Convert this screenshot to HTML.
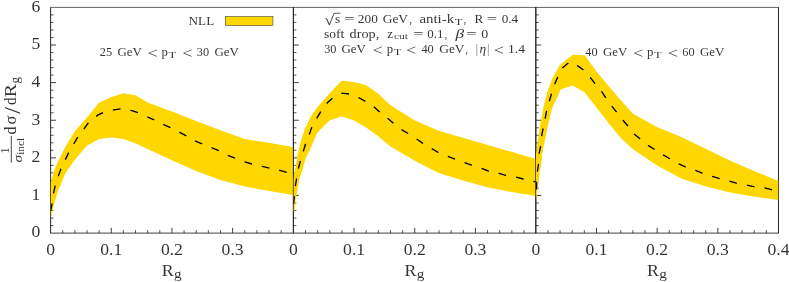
<!DOCTYPE html>
<html lang="en"><head><meta charset="utf-8"><title>Soft drop groomed radius</title>
<style>
html,body{margin:0;padding:0;background:#fff;}
body{width:789px;height:282px;overflow:hidden;}
svg{display:block;will-change:transform;}
text{font-family:"Liberation Serif","DejaVu Serif",serif;fill:#000;opacity:0.8;}
.t{font-size:17.6px;}
.s{font-size:12.2px;}
.ss{font-size:9.1px;}
.ss2{font-size:9.4px;}
.s1{font-size:12.8px;}
.sl{font-size:24px;}
.lt{font-size:14px;}
.i{font-style:italic;}
.ax{stroke:#222;stroke-width:0.85;fill:none;}
.mn{stroke:#111;stroke-width:0.7;fill:none;}
</style></head><body>
<svg width="789" height="282" viewBox="0 0 789 282">
<rect x="0" y="0" width="789" height="282" fill="#fff"/>
<defs>
<clipPath id="c0"><rect x="50.6" y="7.4" width="242.8" height="225.7"/></clipPath>
<clipPath id="c1"><rect x="293.4" y="7.4" width="242.4" height="225.7"/></clipPath>
<clipPath id="c2"><rect x="535.8" y="7.4" width="242.7" height="225.7"/></clipPath>
</defs>
<path d="M50.10 7.40H293.90" stroke="#000" stroke-width="0.62" fill="none"/>
<path d="M50.10 233.10H293.90" stroke="#2a2a2a" stroke-width="0.9" fill="none"/>
<path d="M50.60 7.40V233.10M293.40 7.40V233.10" stroke="#2a2a2a" stroke-width="1.02" fill="none"/>
<path class="ax" d="M50.60 195.48h5.4M50.60 157.87h5.4M50.60 120.25h5.4M50.60 82.63h5.4M50.60 45.02h5.4M111.27 233.10v-5.3M171.95 233.10v-5.3M232.62 233.10v-5.3"/>
<path class="mn" d="M50.60 225.58h3.0M50.60 218.05h3.0M50.60 210.53h3.0M50.60 203.01h3.0M50.60 187.96h3.0M50.60 180.44h3.0M50.60 172.91h3.0M50.60 165.39h3.0M50.60 150.34h3.0M50.60 142.82h3.0M50.60 135.30h3.0M50.60 127.77h3.0M50.60 112.73h3.0M50.60 105.20h3.0M50.60 97.68h3.0M50.60 90.16h3.0M50.60 75.11h3.0M50.60 67.59h3.0M50.60 60.06h3.0M50.60 52.54h3.0M50.60 37.49h3.0M50.60 29.97h3.0M50.60 22.45h3.0M50.60 14.92h3.0M62.73 233.10v-3.0M74.87 233.10v-3.0M87.00 233.10v-3.0M99.14 233.10v-3.0M123.41 233.10v-3.0M135.54 233.10v-3.0M147.68 233.10v-3.0M159.81 233.10v-3.0M184.08 233.10v-3.0M196.22 233.10v-3.0M208.35 233.10v-3.0M220.49 233.10v-3.0M244.76 233.10v-3.0M256.89 233.10v-3.0M269.03 233.10v-3.0M281.16 233.10v-3.0"/>
<g clip-path="url(#c0)">
<polygon points="50.5,185.0 51.3,181.3 54.0,170.8 56.3,165.2 58.8,160.0 62.6,152.2 65.7,146.2 74.8,131.3 86.9,117.5 99.0,102.8 111.2,97.2 123.3,93.2 135.4,95.3 147.6,102.6 171.9,111.5 196.1,121.1 220.4,130.3 244.7,139.0 269.0,142.7 293.5,147.3 293.5,195.0 269.0,191.0 244.7,186.4 220.4,180.0 196.1,170.9 171.9,160.3 147.6,149.0 135.4,143.2 123.3,139.0 111.2,137.5 99.0,139.0 86.9,145.8 74.8,159.8 67.3,170.4 64.5,175.0 62.6,179.8 60.9,184.5 58.2,190.5 56.6,195.6 52.4,210.6 51.3,215.0 50.5,219.0" fill="#FFD700"/>
<polyline points="50.7,211.0 52.2,202.6 53.7,192.5 55.4,185.0 58.8,174.6 61.3,168.0 65.9,158.4 69.0,151.9 74.3,143.0 77.8,137.1 84.9,127.6 88.5,122.6 97.7,115.2 103.5,112.5 114.2,109.8 121.3,108.8 131.9,110.7 138.7,112.9 148.3,117.3 155.0,120.1 164.2,124.9 171.3,128.1 180.2,132.6 186.6,136.0 195.5,141.2 202.3,144.0 212.0,147.8 218.8,150.7 228.5,155.6 235.4,158.3 244.8,161.9 252.0,164.0 262.2,166.3 269.3,168.1 280.0,170.4 287.0,172.5 293.5,174.0" fill="none" stroke="#000" stroke-width="1.35" stroke-dasharray="7.8 10.1"/>
</g>
<path d="M292.90 7.40H536.30" stroke="#000" stroke-width="0.62" fill="none"/>
<path d="M292.90 233.10H536.30" stroke="#2a2a2a" stroke-width="0.9" fill="none"/>
<path d="M293.40 7.40V233.10M535.80 7.40V233.10" stroke="#2a2a2a" stroke-width="1.02" fill="none"/>
<path class="ax" d="M293.40 195.48h5.4M293.40 157.87h5.4M293.40 120.25h5.4M293.40 82.63h5.4M293.40 45.02h5.4M354.07 233.10v-5.3M414.75 233.10v-5.3M475.42 233.10v-5.3"/>
<path class="mn" d="M293.40 225.58h3.0M293.40 218.05h3.0M293.40 210.53h3.0M293.40 203.01h3.0M293.40 187.96h3.0M293.40 180.44h3.0M293.40 172.91h3.0M293.40 165.39h3.0M293.40 150.34h3.0M293.40 142.82h3.0M293.40 135.30h3.0M293.40 127.77h3.0M293.40 112.73h3.0M293.40 105.20h3.0M293.40 97.68h3.0M293.40 90.16h3.0M293.40 75.11h3.0M293.40 67.59h3.0M293.40 60.06h3.0M293.40 52.54h3.0M293.40 37.49h3.0M293.40 29.97h3.0M293.40 22.45h3.0M293.40 14.92h3.0M305.53 233.10v-3.0M317.67 233.10v-3.0M329.80 233.10v-3.0M341.94 233.10v-3.0M366.21 233.10v-3.0M378.34 233.10v-3.0M390.48 233.10v-3.0M402.61 233.10v-3.0M426.88 233.10v-3.0M439.02 233.10v-3.0M451.15 233.10v-3.0M463.29 233.10v-3.0M487.56 233.10v-3.0M499.69 233.10v-3.0M511.83 233.10v-3.0M523.96 233.10v-3.0"/>
<g clip-path="url(#c1)">
<polygon points="293.4,179.0 294.9,170.0 296.9,159.4 298.5,150.5 299.7,145.2 304.9,128.5 309.3,120.0 311.0,116.0 317.3,107.3 329.4,93.4 341.5,80.7 353.7,82.1 365.8,85.0 377.9,93.6 390.1,105.0 414.3,120.2 438.6,130.7 487.1,144.8 536.0,159.0 536.0,195.9 511.4,192.1 487.1,187.3 462.9,180.5 438.6,173.0 414.3,160.5 390.1,146.2 377.9,135.9 365.8,127.2 353.7,120.3 341.5,116.4 329.4,120.4 317.3,132.7 309.8,150.0 305.7,158.0 302.5,170.0 299.5,177.7 297.5,190.0 296.0,197.1 294.5,210.0 293.4,212.0" fill="#FFD700"/>
<polyline points="293.6,204.0 294.4,195.5 295.6,184.5 296.7,178.2 298.8,166.7 300.5,160.6 303.6,150.5 305.7,143.4 309.6,133.6 312.0,126.5 317.3,117.3 320.8,111.7 327.4,102.8 332.7,97.9 342.1,93.1 349.2,94.0 359.5,98.0 365.5,101.4 374.4,107.3 379.9,112.2 388.2,118.7 393.6,123.5 402.4,130.1 408.3,133.6 417.4,139.5 422.9,143.4 432.5,149.0 438.4,152.6 448.5,156.6 455.0,159.1 464.4,162.5 471.5,165.1 481.6,168.3 488.4,171.0 499.0,173.3 505.8,175.4 516.4,177.2 523.0,179.0 536.0,182.0" fill="none" stroke="#000" stroke-width="1.35" stroke-dasharray="7.8 10.1"/>
</g>
<path d="M535.30 7.40H779.00" stroke="#000" stroke-width="0.62" fill="none"/>
<path d="M535.30 233.10H779.00" stroke="#2a2a2a" stroke-width="0.9" fill="none"/>
<path d="M535.80 7.40V233.10M778.50 7.40V233.10" stroke="#2a2a2a" stroke-width="1.02" fill="none"/>
<path class="ax" d="M535.80 195.48h5.4M535.80 157.87h5.4M535.80 120.25h5.4M535.80 82.63h5.4M535.80 45.02h5.4M596.47 233.10v-5.3M657.15 233.10v-5.3M717.82 233.10v-5.3"/>
<path class="mn" d="M535.80 225.58h3.0M535.80 218.05h3.0M535.80 210.53h3.0M535.80 203.01h3.0M535.80 187.96h3.0M535.80 180.44h3.0M535.80 172.91h3.0M535.80 165.39h3.0M535.80 150.34h3.0M535.80 142.82h3.0M535.80 135.30h3.0M535.80 127.77h3.0M535.80 112.73h3.0M535.80 105.20h3.0M535.80 97.68h3.0M535.80 90.16h3.0M535.80 75.11h3.0M535.80 67.59h3.0M535.80 60.06h3.0M535.80 52.54h3.0M535.80 37.49h3.0M535.80 29.97h3.0M535.80 22.45h3.0M535.80 14.92h3.0M547.93 233.10v-3.0M560.07 233.10v-3.0M572.20 233.10v-3.0M584.34 233.10v-3.0M608.61 233.10v-3.0M620.74 233.10v-3.0M632.88 233.10v-3.0M645.01 233.10v-3.0M669.28 233.10v-3.0M681.42 233.10v-3.0M693.55 233.10v-3.0M705.69 233.10v-3.0M729.96 233.10v-3.0M742.09 233.10v-3.0M754.23 233.10v-3.0M766.36 233.10v-3.0"/>
<g clip-path="url(#c2)">
<polygon points="535.8,155.0 537.4,145.0 538.0,140.0 540.1,125.3 543.3,107.7 547.4,91.5 552.2,78.7 559.8,64.9 572.6,54.8 584.7,55.3 596.9,72.0 609.0,86.5 621.1,100.5 633.3,114.0 657.5,127.3 681.8,137.2 706.1,148.9 730.3,160.7 754.6,171.3 778.5,180.9 778.5,200.0 754.6,196.7 730.3,192.4 706.1,186.4 681.8,178.8 657.5,165.8 633.3,149.5 620.8,138.0 608.5,123.0 596.9,108.0 584.7,92.5 572.6,85.5 560.5,89.5 558.4,95.0 552.2,107.7 548.0,125.3 546.0,135.0 543.9,145.0 542.4,152.7 541.1,165.0 539.8,170.5 538.2,185.0 535.8,202.0" fill="#FFD700"/>
<polyline points="536.5,189.5 536.6,181.4 537.4,171.4 538.4,165.0 539.1,153.5 540.5,147.1 541.6,136.0 542.9,129.3 545.1,119.3 546.3,112.2 549.2,101.5 551.3,94.4 554.5,84.4 557.5,77.8 562.3,68.1 567.6,63.6 572.6,61.8 577.6,65.9 583.2,69.8 591.2,78.7 595.3,84.0 601.9,92.0 605.9,98.0 612.0,106.3 616.6,112.2 623.2,120.5 627.6,125.8 634.7,134.4 639.7,138.6 648.5,145.6 654.2,149.2 663.1,154.9 669.4,158.5 678.8,163.8 685.4,166.9 695.5,170.4 702.2,173.1 712.0,176.3 719.1,178.4 729.2,181.0 736.3,183.2 746.6,185.0 753.7,186.7 764.3,187.8 771.4,189.6 778.5,191.0" fill="none" stroke="#000" stroke-width="1.35" stroke-dasharray="7.8 10.1"/>
</g>
<text class="t" x="36" y="237.3" text-anchor="middle">0</text>
<text class="t" x="36" y="199.7" text-anchor="middle">1</text>
<text class="t" x="36" y="162.1" text-anchor="middle">2</text>
<text class="t" x="36" y="124.5" text-anchor="middle">3</text>
<text class="t" x="36" y="86.8" text-anchor="middle">4</text>
<text class="t" x="36" y="49.2" text-anchor="middle">5</text>
<text class="t" x="36" y="11.6" text-anchor="middle">6</text>
<text class="t" x="50.6" y="255.2" text-anchor="middle">0</text>
<text class="t" x="111.3" y="255.2" text-anchor="middle">0.1</text>
<text class="t" x="171.9" y="255.2" text-anchor="middle">0.2</text>
<text class="t" x="232.6" y="255.2" text-anchor="middle">0.3</text>
<text class="t" x="161.8" y="276" textLength="11.9" lengthAdjust="spacingAndGlyphs">R</text>
<text class="s" x="174.0" y="277.5" textLength="7.6" lengthAdjust="spacingAndGlyphs">g</text>
<text class="t" x="293.4" y="255.2" text-anchor="middle">0</text>
<text class="t" x="354.1" y="255.2" text-anchor="middle">0.1</text>
<text class="t" x="414.7" y="255.2" text-anchor="middle">0.2</text>
<text class="t" x="475.4" y="255.2" text-anchor="middle">0.3</text>
<text class="t" x="404.6" y="276" textLength="11.9" lengthAdjust="spacingAndGlyphs">R</text>
<text class="s" x="416.8" y="277.5" textLength="7.6" lengthAdjust="spacingAndGlyphs">g</text>
<text class="t" x="535.8" y="255.2" text-anchor="middle">0</text>
<text class="t" x="596.5" y="255.2" text-anchor="middle">0.1</text>
<text class="t" x="657.1" y="255.2" text-anchor="middle">0.2</text>
<text class="t" x="717.8" y="255.2" text-anchor="middle">0.3</text>
<text class="t" x="778.5" y="255.2" text-anchor="middle">0.4</text>
<text class="t" x="647.0" y="276" textLength="11.9" lengthAdjust="spacingAndGlyphs">R</text>
<text class="s" x="659.2" y="277.5" textLength="7.6" lengthAdjust="spacingAndGlyphs">g</text>
<text class="s" x="188.6" y="25" textLength="25.6" lengthAdjust="spacingAndGlyphs">NLL</text>
<rect x="225.3" y="16.4" width="47.6" height="9.2" fill="#FFD700" stroke="#444" stroke-width="0.6"/>
<text class="s" x="99.8" y="56.3" textLength="12.3" lengthAdjust="spacingAndGlyphs">25</text>
<text class="s" x="117.4" y="56.3" textLength="24.4" lengthAdjust="spacingAndGlyphs">GeV</text>
<text class="lt" x="147.6" y="58.3" textLength="10.2" lengthAdjust="spacingAndGlyphs">&lt;</text>
<text class="s" x="161.6" y="56.3" textLength="6.4" lengthAdjust="spacingAndGlyphs">p</text>
<text class="ss" x="168.6" y="58.1" textLength="7.7" lengthAdjust="spacingAndGlyphs">T</text>
<text class="lt" x="182.2" y="58.3" textLength="10.2" lengthAdjust="spacingAndGlyphs">&lt;</text>
<text class="s" x="196.8" y="56.3" textLength="12.3" lengthAdjust="spacingAndGlyphs">30</text>
<text class="s" x="214.4" y="56.3" textLength="24.4" lengthAdjust="spacingAndGlyphs">GeV</text>
<text class="s" x="585.3" y="56.3" textLength="12.3" lengthAdjust="spacingAndGlyphs">40</text>
<text class="s" x="602.9" y="56.3" textLength="24.4" lengthAdjust="spacingAndGlyphs">GeV</text>
<text class="lt" x="633.1" y="58.3" textLength="10.2" lengthAdjust="spacingAndGlyphs">&lt;</text>
<text class="s" x="647.1" y="56.3" textLength="6.4" lengthAdjust="spacingAndGlyphs">p</text>
<text class="ss" x="654.1" y="58.1" textLength="7.7" lengthAdjust="spacingAndGlyphs">T</text>
<text class="lt" x="667.7" y="58.3" textLength="10.2" lengthAdjust="spacingAndGlyphs">&lt;</text>
<text class="s" x="682.3" y="56.3" textLength="12.3" lengthAdjust="spacingAndGlyphs">60</text>
<text class="s" x="699.9" y="56.3" textLength="24.4" lengthAdjust="spacingAndGlyphs">GeV</text>
<text x="324.1" y="24.7" style="font-size:15px" textLength="10.6" lengthAdjust="spacingAndGlyphs">&#8730;</text>
<path d="M334.2 13.25H340.6" fill="none" stroke="#1a1a1a" stroke-width="0.7"/>
<text class="s" x="335.0" y="22.8" textLength="5.2" lengthAdjust="spacingAndGlyphs">s</text>
<text class="s" x="344.0" y="22.8" textLength="10.6" lengthAdjust="spacingAndGlyphs">=</text>
<text class="s" x="357.8" y="22.8" textLength="20.0" lengthAdjust="spacingAndGlyphs">200</text>
<text class="s" x="382.7" y="22.8" textLength="25.4" lengthAdjust="spacingAndGlyphs">GeV</text>
<text class="s" x="409.4" y="22.8" textLength="2.4" lengthAdjust="spacingAndGlyphs">,</text>
<text class="s" x="419.5" y="22.8" textLength="34.6" lengthAdjust="spacingAndGlyphs">anti-k</text>
<text class="ss" x="454.8" y="24.6" textLength="7.7" lengthAdjust="spacingAndGlyphs">T</text>
<text class="s" x="463.8" y="22.8" textLength="2.4" lengthAdjust="spacingAndGlyphs">,</text>
<text class="s" x="474.6" y="22.8" textLength="8.8" lengthAdjust="spacingAndGlyphs">R</text>
<text class="s" x="486.8" y="22.8" textLength="10.4" lengthAdjust="spacingAndGlyphs">=</text>
<text class="s" x="501.7" y="22.8" textLength="16.4" lengthAdjust="spacingAndGlyphs">0.4</text>
<text class="s" x="323.9" y="37.5" textLength="20.4" lengthAdjust="spacingAndGlyphs">soft</text>
<text class="s" x="349.6" y="37.5" textLength="29.6" lengthAdjust="spacingAndGlyphs">drop,</text>
<text class="s" x="387.2" y="37.5" textLength="5.8" lengthAdjust="spacingAndGlyphs">z</text>
<text class="ss" x="393.9" y="39.2" textLength="14.2" lengthAdjust="spacingAndGlyphs">cut</text>
<text class="s" x="413.2" y="37.5" textLength="10.4" lengthAdjust="spacingAndGlyphs">=</text>
<text class="s" x="427.2" y="37.5" textLength="16.2" lengthAdjust="spacingAndGlyphs">0.1</text>
<text class="s" x="444.8" y="37.5" textLength="2.4" lengthAdjust="spacingAndGlyphs">,</text>
<text class="s i" x="455.5" y="37.5" textLength="8.6" lengthAdjust="spacingAndGlyphs">&#946;</text>
<text class="s" x="466.3" y="37.5" textLength="10.4" lengthAdjust="spacingAndGlyphs">=</text>
<text class="s" x="481.2" y="37.5" textLength="7.0" lengthAdjust="spacingAndGlyphs">0</text>
<text class="s" x="324.2" y="52.8" textLength="12.3" lengthAdjust="spacingAndGlyphs">30</text>
<text class="s" x="341.4" y="52.8" textLength="24.4" lengthAdjust="spacingAndGlyphs">GeV</text>
<text class="lt" x="372.6" y="54.8" textLength="10.2" lengthAdjust="spacingAndGlyphs">&lt;</text>
<text class="s" x="386.8" y="52.8" textLength="6.4" lengthAdjust="spacingAndGlyphs">p</text>
<text class="ss" x="393.8" y="54.6" textLength="7.7" lengthAdjust="spacingAndGlyphs">T</text>
<text class="lt" x="406.0" y="54.8" textLength="10.2" lengthAdjust="spacingAndGlyphs">&lt;</text>
<text class="s" x="421.4" y="52.8" textLength="12.3" lengthAdjust="spacingAndGlyphs">40</text>
<text class="s" x="439.2" y="52.8" textLength="25.4" lengthAdjust="spacingAndGlyphs">GeV</text>
<text class="s" x="465.6" y="52.8" textLength="2.4" lengthAdjust="spacingAndGlyphs">,</text>
<text class="s" x="475.9" y="52.8" textLength="1.8" lengthAdjust="spacingAndGlyphs">|</text>
<text class="s i" x="479.6" y="52.8" textLength="6.6" lengthAdjust="spacingAndGlyphs">&#951;</text>
<text class="s" x="487.3" y="52.8" textLength="1.8" lengthAdjust="spacingAndGlyphs">|</text>
<text class="lt" x="493.8" y="54.8" textLength="10.2" lengthAdjust="spacingAndGlyphs">&lt;</text>
<text class="s" x="508.0" y="52.8" textLength="17.0" lengthAdjust="spacingAndGlyphs">1.4</text>
<text class="s1" transform="translate(9.0,153.6) rotate(-90)" textLength="6.0" lengthAdjust="spacingAndGlyphs">1</text>
<path d="M11.3 136V162.6" stroke="#1a1a1a" stroke-width="0.8" fill="none"/>
<text class="s i" transform="translate(22.3,162.6) rotate(-90)" textLength="7.6" lengthAdjust="spacingAndGlyphs">&#963;</text>
<text class="ss2" transform="translate(24.1,154.8) rotate(-90)" textLength="17.0" lengthAdjust="spacingAndGlyphs">incl</text>
<text class="t" transform="translate(16.4,134.6) rotate(-90)" textLength="8.0" lengthAdjust="spacingAndGlyphs">d</text>
<text class="t" transform="translate(16.4,124.4) rotate(-90)" textLength="9.0" lengthAdjust="spacingAndGlyphs">&#963;</text>
<text class="sl" transform="translate(19.6,113.8) rotate(-90)" textLength="6.8" lengthAdjust="spacingAndGlyphs">/</text>
<text class="t" transform="translate(16.4,105.0) rotate(-90)" textLength="7.6" lengthAdjust="spacingAndGlyphs">d</text>
<text class="t" transform="translate(15.6,97.2) rotate(-90)" textLength="13.2" lengthAdjust="spacingAndGlyphs">R</text>
<text class="s" transform="translate(18.8,83.5) rotate(-90)" textLength="6.6" lengthAdjust="spacingAndGlyphs">g</text>
</svg></body></html>
